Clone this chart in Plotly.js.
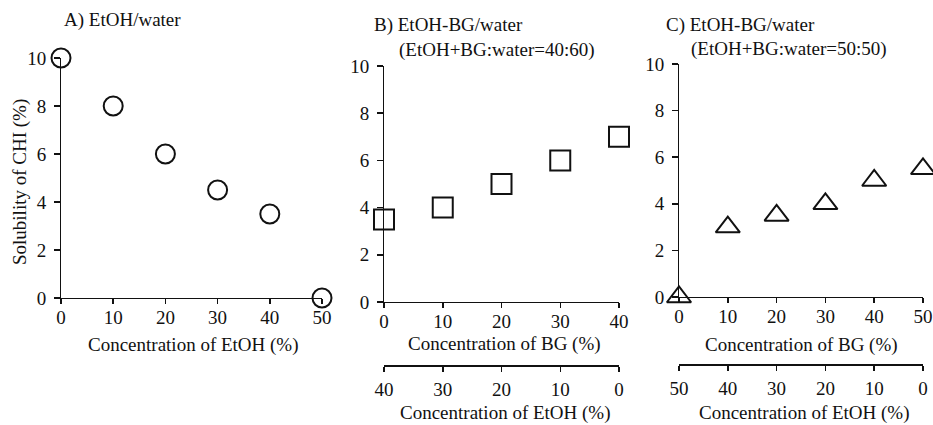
<!DOCTYPE html>
<html>
<head>
<meta charset="utf-8">
<script src="https://cdn.plot.ly/plotly-3.0.1.min.js"></script>
<style>html,body{margin:0;padding:0;background:#fff;}#chart{width:933px;height:425px;}</style>
</head>
<body>
<div id="chart"></div>
<script>
// Panel A: EtOH/water
const etohA = [0, 10, 20, 30, 40, 50];
const solA = [10, 8, 6, 4.5, 3.5, 0];
// Panel B: EtOH-BG/water (EtOH+BG:water = 40:60)
const bgB = [0, 10, 20, 30, 40];
const solB = [3.5, 4, 5, 6, 7];
const etohTicksB = [40, 30, 20, 10, 0];
// Panel C: EtOH-BG/water (EtOH+BG:water = 50:50)
const bgC = [0, 10, 20, 30, 40, 50];
const solC = [0, 3, 3.5, 4, 5, 5.5];
const etohTicksC = [50, 40, 30, 20, 10, 0];
const yTicks = [0, 2, 4, 6, 8, 10];

const W = 933, H = 425;
const px = v => v / W;
const py = v => 1 - v / H;
const FONT = 'Liberation Serif, Times New Roman, serif';
const INK = '#111';
const FS = 19;
const tf = () => ({family: FONT, size: FS, color: INK});

const markerBase = {color: '#fff', line: {color: INK, width: 2}};
const traces = [
  {x: etohA, y: solA, xaxis: 'x', yaxis: 'y', mode: 'markers', cliponaxis: false,
   marker: Object.assign({symbol: 'circle', size: 19}, markerBase), hoverinfo: 'x+y'},
  {x: bgB, y: solB, xaxis: 'x2', yaxis: 'y2', mode: 'markers', cliponaxis: false,
   marker: Object.assign({symbol: 'square', size: 20}, markerBase), hoverinfo: 'x+y'},
  {x: bgC, y: solC, xaxis: 'x3', yaxis: 'y3', mode: 'markers', cliponaxis: false,
   marker: Object.assign({symbol: 'triangle-up', size: 21}, markerBase), hoverinfo: 'x+y'},
  {x: etohTicksB, y: etohTicksB.map(() => null), xaxis: 'x4', yaxis: 'y2', mode: 'markers', hoverinfo: 'skip', showlegend: false},
  {x: etohTicksC, y: etohTicksC.map(() => null), xaxis: 'x5', yaxis: 'y3', mode: 'markers', hoverinfo: 'skip', showlegend: false}
];

function xAx(domain, anchor, range, tickvals, extra) {
  return Object.assign({
    domain: domain, anchor: anchor, range: range, tickvals: tickvals, ticktext: tickvals.map(String),
    showline: true, linecolor: INK, linewidth: 1, ticks: 'outside', ticklen: 5, tickcolor: INK, tickwidth: 1.5,
    showgrid: false, zeroline: false, fixedrange: true, ticklabelstandoff: -3,
    tickfont: tf()
  }, extra || {});
}
function yAx(domain, anchor, extra) {
  return Object.assign({
    domain: domain, anchor: anchor, range: [0, 10], tickvals: yTicks,
    showline: true, linecolor: INK, linewidth: 1, ticks: 'outside', ticklen: 6, tickcolor: INK, tickwidth: 1.5,
    showgrid: false, zeroline: false, fixedrange: true, ticklabelstandoff: 4,
    tickfont: tf()
  }, extra || {});
}
function label(text, x, y, anchor, angle) {
  return {text: text, textangle: angle || 0, xref: 'paper', yref: 'paper', x: px(x), y: py(y),
          xanchor: anchor || 'center', yanchor: 'middle', showarrow: false, font: tf()};
}

const layout = {
  width: W, height: H, margin: {l: 0, r: 0, t: 0, b: 0},
  paper_bgcolor: '#fff', plot_bgcolor: 'rgba(0,0,0,0)', showlegend: false,
  font: tf(),
  xaxis: xAx([px(61), px(322)], 'y', [0, 50], etohA),
  yaxis: yAx([py(298), py(58)], 'x'),
  xaxis2: xAx([px(384), px(619)], 'y2', [0, 40], bgB),
  yaxis2: yAx([py(302), py(66)], 'x2'),
  xaxis3: xAx([px(679), px(923)], 'y3', [0, 50], bgC),
  yaxis3: yAx([py(297), py(64)], 'x3'),
  xaxis4: xAx([px(384), px(619)], 'free', [40, 0], etohTicksB,
              {overlaying: 'x2', position: py(366), side: 'bottom', linewidth: 2, ticklabelstandoff: 1}),
  xaxis5: xAx([px(679), px(923)], 'free', [50, 0], etohTicksC,
              {overlaying: 'x3', position: py(365), side: 'bottom', linewidth: 2, ticklabelstandoff: 1}),
  annotations: [
    label('Solubility of CHI (%)', 20, 182, 'center', -90),
    label('Concentration of EtOH (%)', 193, 345),
    label('Concentration of BG (%)', 504, 344),
    label('Concentration of BG (%)', 801, 345),
    label('Concentration of EtOH (%)', 506, 413),
    label('Concentration of EtOH (%)', 804, 413),
    label('A) EtOH/water', 62, 20, 'left'),
    label('B) EtOH-BG/water', 372, 25, 'left'),
    label('(EtOH+BG:water=40:60)', 397, 50, 'left'),
    label('C) EtOH-BG/water', 664, 25, 'left'),
    label('(EtOH+BG:water=50:50)', 689, 49, 'left')
  ]
};

Plotly.newPlot('chart', traces, layout, {displayModeBar: false, staticPlot: true});
</script>
</body>
</html>
